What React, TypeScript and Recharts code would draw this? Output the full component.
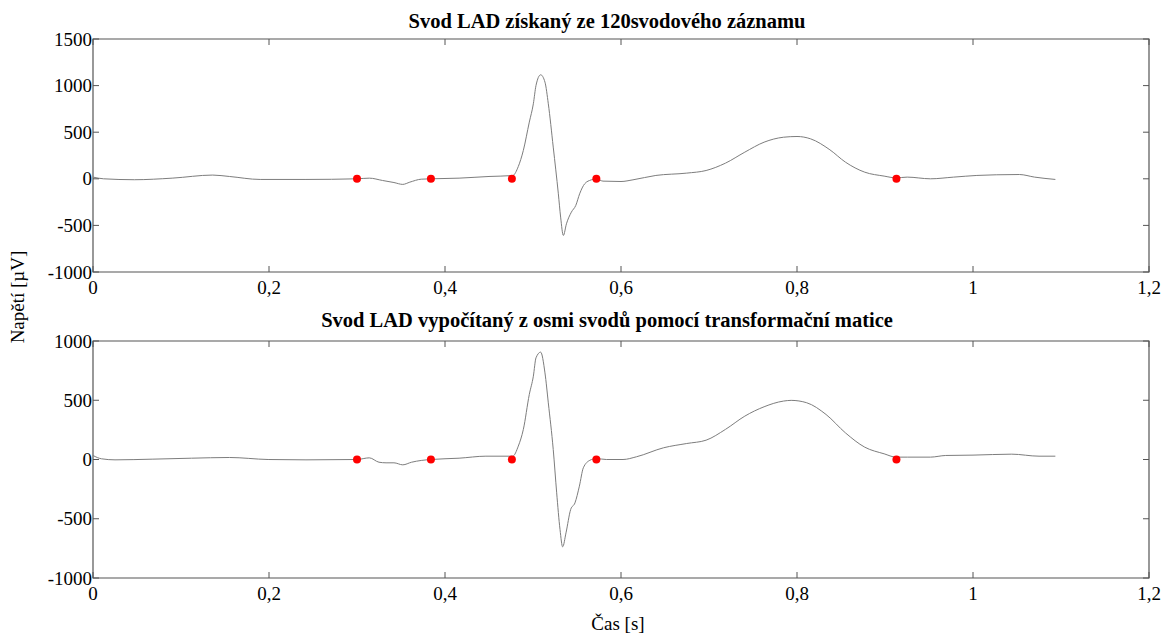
import {
  ComposedChart,
  Line,
  Scatter,
  XAxis,
  YAxis,
  ReferenceArea,
} from 'recharts'

const timeTicks = [0, 0.2, 0.4, 0.6, 0.8, 1, 1.2]
const topTicks = [-1000, -500, 0, 500, 1000, 1500]
const bottomTicks = [-1000, -500, 0, 500, 1000]

// svod LAD ze 120svodoveho zaznamu
const topTime = [
  0, 0.012, 0.047, 0.09, 0.136, 0.155, 0.19, 0.242, 0.3, 0.314, 0.329, 0.342,
  0.352, 0.36, 0.373, 0.384, 0.416, 0.45, 0.477, 0.4833, 0.489, 0.4958, 0.5004,
  0.5034, 0.5087, 0.5136, 0.5174, 0.523, 0.5288, 0.5314, 0.5345, 0.538, 0.5436,
  0.5486, 0.553, 0.5587, 0.5663, 0.572, 0.5795, 0.6, 0.6136, 0.6396, 0.6747,
  0.6967, 0.7187, 0.7407, 0.7626, 0.7846, 0.8, 0.8154, 0.8374, 0.855, 0.877,
  0.899, 0.9125, 0.9253, 0.9516, 0.978, 1.0044, 1.0264, 1.0527, 1.07, 1.0936,
]
const topValues = [
  18, 0, -10, 7, 40, 25, -7, -7, 0, 7, -18, -40, -60, -36, -4, 0, 7, 25, 35,
  132, 304, 608, 805, 1001, 1116, 1037, 805, 340, -161, -411, -608, -483, -358,
  -286, -161, -54, -11, 0, -25, -29, -11, 36, 61, 89, 168, 286, 393, 446, 454,
  429, 311, 179, 71, 29, 10, 18, 0, 18, 36, 43, 46, 18, -7,
]

// svod LAD vypocitany transformacni matici
const bottomTime = [
  0, 0.0096, 0.025, 0.068, 0.112, 0.155, 0.199, 0.242, 0.3, 0.314, 0.325,
  0.333, 0.342, 0.352, 0.362, 0.373, 0.384, 0.416, 0.4465, 0.477, 0.4833,
  0.489, 0.4958, 0.5004, 0.5034, 0.5087, 0.5136, 0.5174, 0.523, 0.5269, 0.5307,
  0.5337, 0.5375, 0.5428, 0.5477, 0.5527, 0.5572, 0.5648, 0.572, 0.5833,
  0.6023, 0.6176, 0.6484, 0.6747, 0.6967, 0.7187, 0.7407, 0.7626, 0.7846,
  0.7934, 0.811, 0.833, 0.855, 0.877, 0.899, 0.9125, 0.9253, 0.9516, 0.969, 1.0,
  1.044, 1.075, 1.0936,
]
const bottomValues = [
  34, 6, -3, 3, 11, 17, 0, -3, 0, 14, -23, -28, -28, -45, -23, -8, 0, 11, 28,
  28, 113, 253, 549, 703, 858, 906, 731, 478, 84, -281, -591, -737, -619, -422,
  -366, -225, -70, -6, 8, 0, 0, 23, 99, 135, 163, 254, 366, 445, 493, 499, 479,
  380, 225, 104, 48, 20, 20, 20, 34, 37, 45, 28, 28,
]

const markerTime = [0.3, 0.384, 0.476, 0.572, 0.913]
const markerValues = [0, 0, 0, 0, 0]

const FONT = '"Liberation Serif", "Times New Roman", serif'
const AXIS = '#555'
const PLOT_W = 1056

const toPoints = (ts: number[], vs: number[]) =>
  ts.map((t, i) => ({ t, v: vs[i] }))

const fmt = (v: number) => String(v).replace('.', ',')

function makeXTick(plotH: number) {
  return (props: any) => {
    const { x, y, payload } = props
    return (
      <g>
        <line x1={x} x2={x} y1={y} y2={y - 6} stroke={AXIS} />
        <line x1={x} x2={x} y1={y - plotH} y2={y - plotH + 6} stroke={AXIS} />
        <text
          x={x}
          y={y + 22}
          textAnchor="middle"
          fontSize={19}
          fontFamily={FONT}
          fill="#000"
        >
          {fmt(payload.value)}
        </text>
      </g>
    )
  }
}

function YTick(props: any) {
  const { x, y, payload } = props
  return (
    <g>
      <line x1={x} x2={x + 6} y1={y} y2={y} stroke={AXIS} />
      <line x1={x + PLOT_W - 6} x2={x + PLOT_W} y1={y} y2={y} stroke={AXIS} />
      <text
        x={x - 1}
        y={y}
        dy="0.35em"
        textAnchor="end"
        fontSize={19}
        fontFamily={FONT}
        fill="#000"
      >
        {payload.value}
      </text>
    </g>
  )
}

const redDot = (p: any) => <circle cx={p.cx} cy={p.cy} r={4} fill="#ff0000" />

interface PanelProps {
  top: number
  height: number
  margin: { top: number; right: number; left: number; bottom: number }
  plotH: number
  title: string
  titleY: number
  time: number[]
  values: number[]
  yMin: number
  yMax: number
  yTicks: number[]
}

function Panel(p: PanelProps) {
  const data = toPoints(p.time, p.values)
  const markers = toPoints(markerTime, markerValues)
  return (
    <div style={{ position: 'absolute', left: 0, top: p.top }}>
      <div
        style={{
          position: 'absolute',
          left: 0,
          width: 1214,
          top: p.titleY,
          textAlign: 'center',
          fontFamily: FONT,
          fontWeight: 'bold',
          fontSize: 20.5,
          lineHeight: '22px',
          color: '#000',
        }}
      >
        {p.title}
      </div>
      <ComposedChart width={1167} height={p.height} margin={p.margin}>
        <XAxis
          dataKey="t"
          type="number"
          domain={[0, 1.2]}
          ticks={timeTicks}
          axisLine={false}
          tickLine={false}
          tickSize={0}
          tickMargin={0}
          height={30}
          tick={makeXTick(p.plotH)}
        />
        <YAxis
          type="number"
          domain={[p.yMin, p.yMax]}
          ticks={p.yTicks}
          axisLine={false}
          tickLine={false}
          tickSize={0}
          tickMargin={0}
          width={93}
          tick={YTick}
        />
        <ReferenceArea
          x1={0}
          x2={1.2}
          y1={p.yMin}
          y2={p.yMax}
          fill="none"
          stroke={AXIS}
          strokeWidth={1.2}
          ifOverflow="visible"
        />
        <Line
          data={data}
          dataKey="v"
          type="monotone"
          stroke="#7d7d7d"
          strokeWidth={1}
          dot={false}
          isAnimationActive={false}
        />
        <Scatter
          data={markers}
          dataKey="v"
          shape={redDot}
          isAnimationActive={false}
        />
      </ComposedChart>
    </div>
  )
}

export default function App() {
  return (
    <div
      style={{
        position: 'absolute',
        left: 0,
        top: 0,
        width: 1167,
        height: 635,
        background: '#fff',
        fontFamily: FONT,
      }}
    >
      <Panel
        top={0}
        height={310}
        margin={{ top: 39, right: 18, left: 0, bottom: 8 }}
        plotH={233}
        title="Svod LAD získaný ze 120svodového záznamu"
        titleY={10}
        time={topTime}
        values={topValues}
        yMin={-1000}
        yMax={1500}
        yTicks={topTicks}
      />
      <Panel
        top={310}
        height={325}
        margin={{ top: 31, right: 18, left: 0, bottom: 27 }}
        plotH={237}
        title="Svod LAD vypočítaný z osmi svodů pomocí transformační matice"
        titleY={-1}
        time={bottomTime}
        values={bottomValues}
        yMin={-1000}
        yMax={1000}
        yTicks={bottomTicks}
      />
      <div
        style={{
          position: 'absolute',
          left: 18,
          top: 297,
          transform: 'translate(-50%, -50%) rotate(-90deg)',
          whiteSpace: 'nowrap',
          fontSize: 19,
          color: '#000',
        }}
      >
        Napětí [µV]
      </div>
      <div
        style={{
          position: 'absolute',
          left: 618,
          top: 624,
          transform: 'translate(-50%, -50%)',
          whiteSpace: 'nowrap',
          fontSize: 19,
          color: '#000',
        }}
      >
        Čas [s]
      </div>
    </div>
  )
}
